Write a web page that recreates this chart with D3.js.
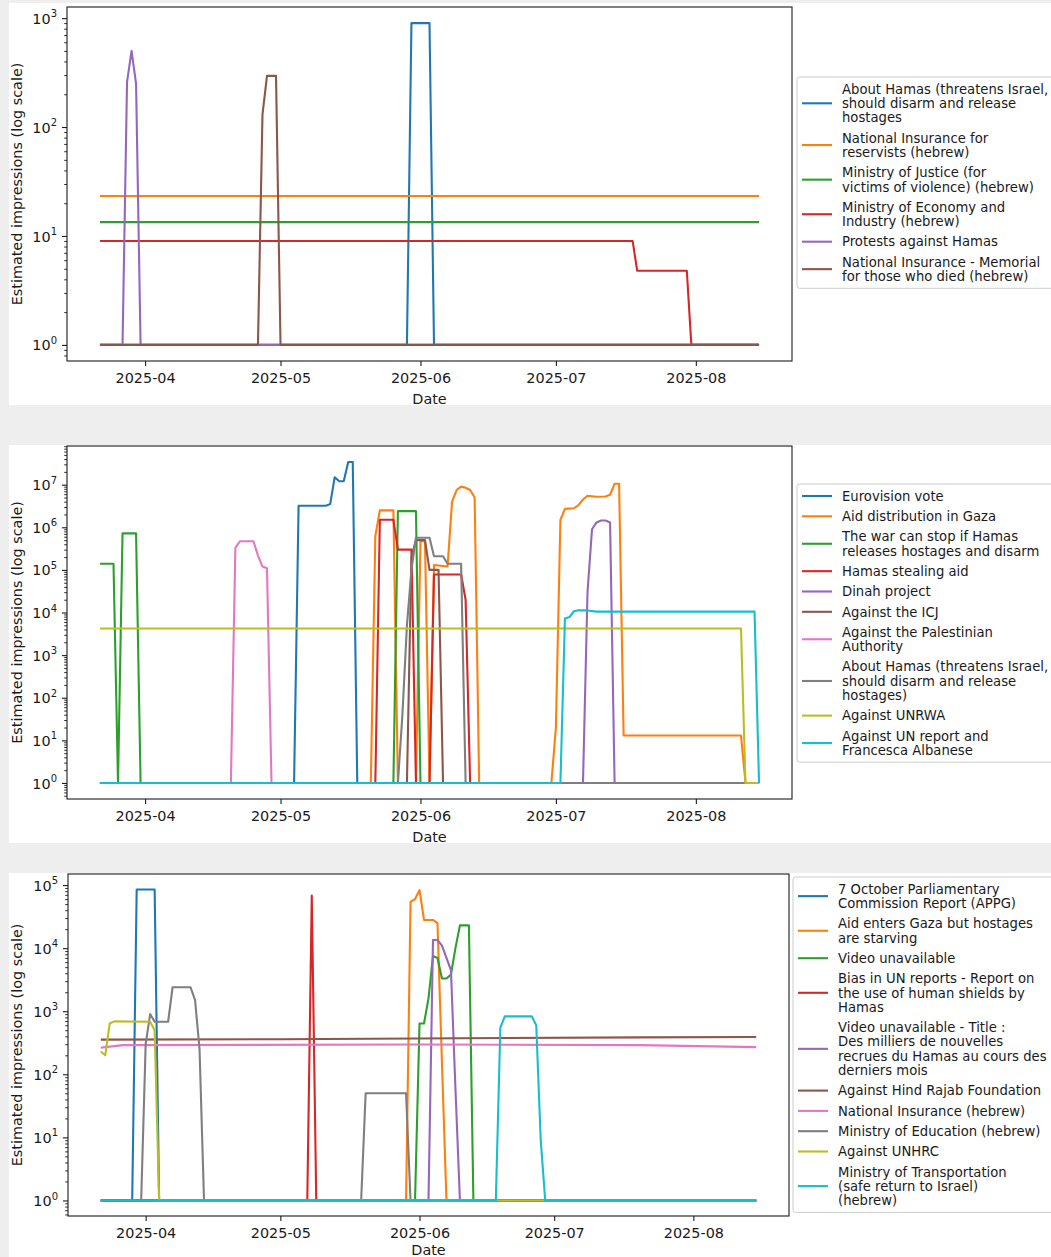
<!DOCTYPE html>
<html>
<head>
<meta charset="utf-8">
<script src="https://cdn.jsdelivr.net/npm/d3@7"></script>
<style>
  body { margin: 0; background: #eeeeee; }
  svg { display: block; font-family: "DejaVu Sans", sans-serif; }
</style>
</head>
<body>
<svg id="chart" width="1051" height="1257"></svg>
<script>
// tab10 colours, in plotting order
const colors = ["#1f77b4", "#ff7f0e", "#2ca02c", "#d62728", "#9467bd",
                "#8c564b", "#e377c2", "#7f7f7f", "#bcbd22", "#17becf"];

const firstDay = "2025-03-22";
const lastDay = "2025-08-15";
const monthTicks = ["2025-04-01", "2025-05-01", "2025-06-01", "2025-07-01", "2025-08-01"];

// ---- panel 1 ----
const names1 = [
  ["About Hamas (threatens Israel,", "should disarm and release", "hostages"],
  ["National Insurance for", "reservists (hebrew)"],
  ["Ministry of Justice (for", "victims of violence) (hebrew)"],
  ["Ministry of Economy and", "Industry (hebrew)"],
  ["Protests against Hamas"],
  ["National Insurance - Memorial", "for those who died (hebrew)"]
];
const series1 = [
  [["2025-03-22", 1], ["2025-05-29", 1], ["2025-05-30", 900], ["2025-06-03", 900], ["2025-06-04", 1], ["2025-08-15", 1]],
  [["2025-03-22", 23.3], ["2025-08-15", 23.3]],
  [["2025-03-22", 13.4], ["2025-08-15", 13.4]],
  [["2025-03-22", 9], ["2025-07-18", 9], ["2025-07-19", 4.8], ["2025-07-30", 4.8], ["2025-07-31", 1], ["2025-08-15", 1]],
  [["2025-03-22", 1], ["2025-03-27", 1], ["2025-03-28", 260], ["2025-03-29", 500], ["2025-03-30", 250], ["2025-03-31", 1], ["2025-08-15", 1]],
  [["2025-03-22", 1], ["2025-04-26", 1], ["2025-04-27", 130], ["2025-04-28", 295], ["2025-04-30", 295], ["2025-05-01", 1], ["2025-08-15", 1]]
];

// ---- panel 2 ----
const names2 = [
  ["Eurovision vote"],
  ["Aid distribution in Gaza"],
  ["The war can stop if Hamas", "releases hostages and disarm"],
  ["Hamas stealing aid"],
  ["Dinah project"],
  ["Against the ICJ"],
  ["Against the Palestinian", "Authority"],
  ["About Hamas (threatens Israel,", "should disarm and release", "hostages)"],
  ["Against UNRWA"],
  ["Against UN report and", "Francesca Albanese"]
];
const series2 = [
  [["2025-03-22", 1], ["2025-05-04", 1], ["2025-05-05", 3.2e6], ["2025-05-11", 3.2e6], ["2025-05-12", 3.5e6], ["2025-05-13", 1.5e7],
   ["2025-05-14", 1.2e7], ["2025-05-15", 1.2e7], ["2025-05-16", 3.4e7], ["2025-05-17", 3.4e7], ["2025-05-18", 1], ["2025-08-15", 1]],
  [["2025-03-22", 1], ["2025-05-21", 1], ["2025-05-22", 6.2e5], ["2025-05-23", 2.5e6], ["2025-05-26", 2.5e6], ["2025-05-27", 1],
   ["2025-05-31", 1], ["2025-06-01", 4.7e5], ["2025-06-02", 4.7e5], ["2025-06-03", 1], ["2025-06-04", 1.3e5], ["2025-06-07", 1.2e5],
   ["2025-06-08", 4e6], ["2025-06-09", 7.5e6], ["2025-06-10", 9e6], ["2025-06-11", 8.5e6], ["2025-06-12", 7.5e6], ["2025-06-13", 5e6],
   ["2025-06-14", 1], ["2025-06-30", 1], ["2025-07-01", 20], ["2025-07-02", 1.5e6], ["2025-07-03", 2.7e6], ["2025-07-05", 2.8e6],
   ["2025-07-06", 3.3e6], ["2025-07-07", 4.5e6], ["2025-07-08", 5.5e6], ["2025-07-10", 5.2e6], ["2025-07-12", 5.3e6], ["2025-07-13", 5.8e6],
   ["2025-07-14", 1.05e7], ["2025-07-15", 1.05e7], ["2025-07-16", 13], ["2025-08-11", 13], ["2025-08-12", 1], ["2025-08-15", 1]],
  [["2025-03-22", 1.4e5], ["2025-03-25", 1.4e5], ["2025-03-26", 1], ["2025-03-27", 7.2e5], ["2025-03-30", 7.2e5], ["2025-03-31", 1],
   ["2025-05-26", 1], ["2025-05-27", 2.4e6], ["2025-05-31", 2.4e6], ["2025-06-01", 1], ["2025-08-15", 1]],
  [["2025-03-22", 1], ["2025-05-22", 1], ["2025-05-23", 1.5e6], ["2025-05-26", 1.5e6], ["2025-05-27", 3e5], ["2025-05-30", 3e5],
   ["2025-05-31", 1], ["2025-06-03", 1], ["2025-06-04", 7.8e4], ["2025-06-10", 7.8e4], ["2025-06-11", 2e4], ["2025-06-12", 1], ["2025-08-15", 1]],
  [["2025-03-22", 1], ["2025-07-07", 1], ["2025-07-08", 3e4], ["2025-07-09", 9e5], ["2025-07-10", 1.3e6], ["2025-07-11", 1.45e6],
   ["2025-07-12", 1.45e6], ["2025-07-13", 1.3e6], ["2025-07-14", 1], ["2025-08-15", 1]],
  [["2025-03-22", 1], ["2025-05-29", 1], ["2025-05-30", 2e5], ["2025-05-31", 5e5], ["2025-06-02", 5e5], ["2025-06-03", 1e5],
   ["2025-06-05", 1e5], ["2025-06-06", 1], ["2025-08-15", 1]],
  [["2025-03-22", 1], ["2025-04-20", 1], ["2025-04-21", 3.3e5], ["2025-04-22", 4.7e5], ["2025-04-25", 4.7e5], ["2025-04-26", 2.2e5],
   ["2025-04-27", 1.2e5], ["2025-04-28", 1.1e5], ["2025-04-29", 1], ["2025-08-15", 1]],
  [["2025-03-22", 1], ["2025-05-27", 1], ["2025-05-28", 40], ["2025-05-29", 5000], ["2025-05-30", 1e5], ["2025-05-31", 5.7e5],
   ["2025-06-03", 5.7e5], ["2025-06-04", 2.1e5], ["2025-06-06", 2.1e5], ["2025-06-07", 1.4e5], ["2025-06-10", 1.4e5], ["2025-06-11", 1], ["2025-08-15", 1]],
  [["2025-03-22", 4200], ["2025-08-11", 4200], ["2025-08-12", 1], ["2025-08-15", 1]],
  [["2025-03-22", 1], ["2025-07-02", 1], ["2025-07-03", 7200], ["2025-07-04", 7800], ["2025-07-05", 1.07e4], ["2025-07-06", 1.13e4],
   ["2025-07-08", 1.12e4], ["2025-07-10", 1.05e4], ["2025-08-14", 1.05e4], ["2025-08-15", 1]]
];

// ---- panel 3 ----
const names3 = [
  ["7 October Parliamentary", "Commission Report (APPG)"],
  ["Aid enters Gaza but hostages", "are starving"],
  ["Video unavailable"],
  ["Bias in UN reports - Report on", "the use of human shields by", "Hamas"],
  ["Video unavailable - Title :", "Des milliers de nouvelles", "recrues du Hamas au cours des", "derniers mois"],
  ["Against Hind Rajab Foundation"],
  ["National Insurance (hebrew)"],
  ["Ministry of Education (hebrew)"],
  ["Against UNHRC"],
  ["Ministry of Transportation", "(safe return to Israel)", "(hebrew)"]
];
const series3 = [
  [["2025-03-22", 1], ["2025-03-29", 1], ["2025-03-30", 8.5e4], ["2025-04-03", 8.5e4], ["2025-04-04", 1], ["2025-08-15", 1]],
  [["2025-03-22", 1], ["2025-05-29", 1], ["2025-05-30", 5.4e4], ["2025-05-31", 6e4], ["2025-06-01", 8.3e4], ["2025-06-02", 2.8e4],
   ["2025-06-04", 2.8e4], ["2025-06-05", 2.5e4], ["2025-06-06", 150], ["2025-06-07", 1], ["2025-08-15", 1]],
  [["2025-03-22", 1], ["2025-05-31", 1], ["2025-06-01", 640], ["2025-06-02", 640], ["2025-06-03", 1600], ["2025-06-04", 7500],
   ["2025-06-05", 7000], ["2025-06-06", 3300], ["2025-06-07", 3300], ["2025-06-08", 3800], ["2025-06-09", 1e4], ["2025-06-10", 2.3e4],
   ["2025-06-12", 2.3e4], ["2025-06-13", 1], ["2025-08-15", 1]],
  [["2025-03-22", 1], ["2025-05-07", 1], ["2025-05-08", 6.8e4], ["2025-05-09", 1], ["2025-08-15", 1]],
  [["2025-03-22", 1], ["2025-06-03", 1], ["2025-06-04", 1.35e4], ["2025-06-05", 1.35e4], ["2025-06-06", 1.1e4], ["2025-06-07", 7000],
   ["2025-06-08", 4500], ["2025-06-09", 60], ["2025-06-10", 1], ["2025-08-15", 1]],
  [["2025-03-22", 355], ["2025-05-01", 360], ["2025-06-10", 372], ["2025-07-20", 385], ["2025-08-15", 390]],
  [["2025-03-22", 265], ["2025-03-27", 290], ["2025-06-01", 297], ["2025-07-20", 290], ["2025-08-15", 270]],
  [["2025-03-22", 1], ["2025-03-31", 1], ["2025-04-01", 300], ["2025-04-02", 900], ["2025-04-03", 680], ["2025-04-06", 680],
   ["2025-04-07", 2400], ["2025-04-11", 2400], ["2025-04-12", 1500], ["2025-04-13", 250], ["2025-04-14", 1],
   ["2025-05-19", 1], ["2025-05-20", 50], ["2025-05-29", 50], ["2025-05-30", 1], ["2025-08-15", 1]],
  [["2025-03-22", 230], ["2025-03-23", 200], ["2025-03-24", 640], ["2025-03-25", 690], ["2025-04-02", 680], ["2025-04-03", 500],
   ["2025-04-04", 1], ["2025-08-15", 1]],
  [["2025-03-22", 1], ["2025-06-18", 1], ["2025-06-19", 550], ["2025-06-20", 830], ["2025-06-26", 830], ["2025-06-27", 600],
   ["2025-06-28", 9], ["2025-06-29", 1], ["2025-08-15", 1]]
];

// layout of the three stacked figures
const panels = [
  { bgTop: 3,   bgBottom: 405,  left: 67, right: 792, top: 7,   bottom: 361,  legendX: 797, legendTop: 77,  dateY: 404,  names: names1, series: series1 },
  { bgTop: 445, bgBottom: 843,  left: 67, right: 792, top: 446, bottom: 799,  legendX: 797, legendTop: 484, dateY: 842,  names: names2, series: series2 },
  { bgTop: 873, bgBottom: 1257, left: 68, right: 789, top: 874, bottom: 1216, legendX: 793, legendTop: 877, dateY: 1255, names: names3, series: series3 }
];

const parseDay = d3.utcParse("%Y-%m-%d");
const svg = d3.select("#chart");
const tickFont = 14.4;
const legendFont = 13.2;
const lineH = 14.3;
const entryGap = 6;

panels.forEach(function(p, i) {
  const g = svg.append("g");

  g.append("rect")
    .attr("x", 9).attr("y", p.bgTop)
    .attr("width", 1051 - 9).attr("height", p.bgBottom - p.bgTop)
    .attr("fill", "#ffffff");

  // x: data range plus 5% margin each side
  const t0 = parseDay(firstDay), t1 = parseDay(lastDay);
  const pad = (t1 - t0) * 0.05;
  const x = d3.scaleUtc()
    .domain([new Date(+t0 - pad), new Date(+t1 + pad)])
    .range([p.left, p.right]);

  // y: log scale with 5% margin in decades
  const vmax = d3.max(p.series, s => d3.max(s, d => d[1]));
  const vmin = d3.min(p.series, s => d3.min(s, d => d[1]));
  const lo = Math.log10(vmin), hi = Math.log10(vmax);
  const m = (hi - lo) * 0.05;
  const y = d3.scaleLog()
    .domain([Math.pow(10, lo - m), Math.pow(10, hi + m)])
    .range([p.bottom, p.top]);

  const clipId = "clip" + i;
  g.append("clipPath").attr("id", clipId)
    .append("rect")
    .attr("x", p.left).attr("y", p.top)
    .attr("width", p.right - p.left).attr("height", p.bottom - p.top);

  const line = d3.line()
    .x(d => x(parseDay(d[0])))
    .y(d => y(d[1]));

  g.append("g").attr("clip-path", "url(#" + clipId + ")")
    .selectAll("path")
    .data(p.series)
    .enter()
    .append("path")
    .attr("d", line)
    .attr("fill", "none")
    .attr("stroke", (d, k) => colors[k])
    .attr("stroke-width", 2.1)
    .attr("stroke-linejoin", "round");

  // x axis
  const xAxis = g.append("g")
    .attr("transform", "translate(0," + p.bottom + ")")
    .call(d3.axisBottom(x)
      .tickValues(monthTicks.map(parseDay))
      .tickFormat(d3.utcFormat("%Y-%m"))
      .tickSize(5)
      .tickPadding(7));
  xAxis.select(".domain").remove();
  xAxis.selectAll("text").attr("font-size", tickFont).attr("font-family", "DejaVu Sans").attr("fill", "#1a1a1a");
  xAxis.selectAll("line").attr("stroke", "#1a1a1a").attr("stroke-width", 1.1);

  // y axis: majors at powers of ten, minors at 2..9
  const d0 = y.domain();
  const kLo = Math.ceil(Math.log10(d0[0]) - 1e-9), kHi = Math.floor(Math.log10(d0[1]) + 1e-9);
  const majors = d3.range(kLo, kHi + 1).map(k => Math.pow(10, k));
  const minors = [];
  for (let k = kLo - 1; k <= kHi; k++) {
    for (let s = 2; s <= 9; s++) {
      const v = s * Math.pow(10, k);
      if (v > d0[0] && v < d0[1]) minors.push(v);
    }
  }

  const yMinor = g.append("g")
    .attr("transform", "translate(" + p.left + ",0)")
    .call(d3.axisLeft(y).tickValues(minors).tickSize(2.8).tickFormat(""));
  yMinor.select(".domain").remove();
  yMinor.selectAll("line").attr("stroke", "#1a1a1a").attr("stroke-width", 0.9);

  const yAxis = g.append("g")
    .attr("transform", "translate(" + p.left + ",0)")
    .call(d3.axisLeft(y).tickValues(majors).tickSize(5).tickPadding(5).tickFormat(""));
  yAxis.select(".domain").remove();
  yAxis.selectAll("line").attr("stroke", "#1a1a1a").attr("stroke-width", 1.1);
  yAxis.selectAll(".tick text")
    .attr("font-size", tickFont)
    .attr("font-family", "DejaVu Sans")
    .attr("fill", "#1a1a1a")
    .attr("dy", "0.35em")
    .each(function(v) {
      const t = d3.select(this);
      t.text(null);
      t.append("tspan").text("10");
      t.append("tspan")
        .attr("font-size", 10)
        .attr("dy", -6.5)
        .text(Math.round(Math.log10(v)));
    });

  // frame
  g.append("rect")
    .attr("x", p.left).attr("y", p.top)
    .attr("width", p.right - p.left).attr("height", p.bottom - p.top)
    .attr("fill", "none")
    .attr("stroke", "#1a1a1a")
    .attr("stroke-width", 1.1);

  // axis titles
  g.append("text")
    .attr("x", (p.left + p.right) / 2)
    .attr("y", p.dateY)
    .attr("text-anchor", "middle")
    .attr("font-size", tickFont)
    .attr("fill", "#1a1a1a")
    .text("Date");

  g.append("text")
    .attr("transform", "translate(17," + ((p.top + p.bottom) / 2) + ") rotate(-90)")
    .attr("text-anchor", "middle")
    .attr("dy", "0.35em")
    .attr("font-size", tickFont)
    .attr("fill", "#1a1a1a")
    .text("Estimated impressions (log scale)");

  // legend
  const legend = g.append("g");
  const frame = legend.append("rect")
    .attr("x", p.legendX).attr("y", p.legendTop)
    .attr("width", 300)
    .attr("rx", 2.5)
    .attr("fill", "#ffffff").attr("fill-opacity", 0.8)
    .attr("stroke", "#cccccc").attr("stroke-width", 1);

  let cy = p.legendTop + 12;
  p.names.forEach(function(lines, k) {
    const hy = cy + (lines.length - 1) * lineH / 2;
    legend.append("line")
      .attr("x1", p.legendX + 5).attr("x2", p.legendX + 35)
      .attr("y1", hy).attr("y2", hy)
      .attr("stroke", colors[k])
      .attr("stroke-width", 2.1);
    lines.forEach(function(s, j) {
      legend.append("text")
        .attr("x", p.legendX + 45)
        .attr("y", cy + j * lineH)
        .attr("dy", "0.36em")
        .attr("font-size", legendFont)
        .attr("fill", "#1a1a1a")
        .text(s);
    });
    cy += lines.length * lineH + entryGap;
  });
  frame.attr("height", cy - entryGap - lineH + 12 - p.legendTop);
});
</script>
</body>
</html>
